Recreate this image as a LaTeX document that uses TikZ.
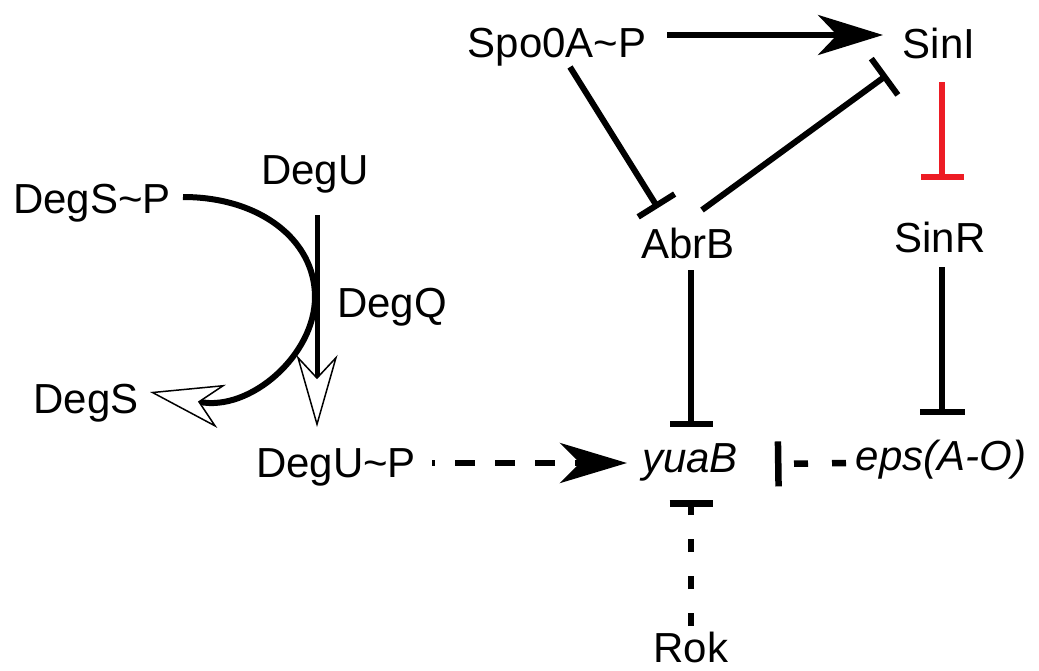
\documentclass[tikz,border=0pt]{standalone}
\usepackage{fontspec}
\setmainfont{Liberation Sans}
\usetikzlibrary{arrows.meta}
\definecolor{inhred}{RGB}{237,28,36}
\begin{document}
\begin{tikzpicture}[x=1pt,y=-1pt,
  lbl/.style={anchor=base, inner sep=0pt, font=\fontsize{42}{50}\selectfont},
  itl/.style={lbl, font=\fontsize{42}{50}\selectfont\itshape},
  conn/.style={line width=6pt},
  act/.style={conn, -{Stealth[length=65pt, width=40pt, inset=19pt]}},
  inh/.style={conn, -{Bar[width=#1]}},
]
\useasboundingbox (0,0) rectangle (1039,670);
% nodes
\node[lbl] (spo)   at (557,57)  {Spo0A\textasciitilde P};
\node[lbl] (sini)  at (939,58)  {SinI};
\node[lbl] (abrb)  at (688,258) {AbrB};
\node[lbl] (sinr)  at (940,252) {SinR};
\node[itl] (yuab)  at (690,472) {yuaB};
\node[itl] (eps)   at (941,470) {eps(A-O)};
\node[lbl] (rok)   at (691,662) {Rok};
\node[lbl] (degsp) at (92,213)  {DegS\textasciitilde P};
\node[lbl] (degu)  at (315,184) {DegU};
\node[lbl] (degq)  at (392,317) {DegQ};
\node[lbl] (degs)  at (86,413)  {DegS};
\node[lbl] (degup) at (336,477) {DegU\textasciitilde P};
% connectors
\draw[act] ([shift={(110,-22)}]spo.base) -- ([shift={(-56,-23)}]sini.base);
\draw[inh=43pt] ([shift={(13,10)}]spo.base) -- ([shift={(-30,-50)}]abrb.base);
\draw[inh=45pt] ([shift={(14,-48)}]abrb.base) -- ([shift={(-52,17)}]sini.base);
\draw[inh=43pt, draw=inhred] ([shift={(3,24)}]sini.base) -- ([shift={(2,-72)}]sinr.base);
\draw[inh=45pt] ([shift={(2,15)}]sinr.base) -- ([shift={(1,-55)}]eps.base);
\draw[inh=43pt] ([shift={(3,12)}]abrb.base) -- ([shift={(1,-45)}]yuab.base);
\draw[line width=6.5pt, dash pattern=on 20pt off 20pt, dash phase=17pt,
      -{Stealth[length=67pt, width=40pt, inset=20pt]}]
  ([shift={(96,-14)}]degup.base) -- ([shift={(-63,-9)}]yuab.base);
\draw[line width=6.5pt, dash pattern=on 13pt off 24pt, -{Bar[width=43pt]}]
  ([shift={(0,-36)}]rok.base) -- ([shift={(1,28)}]yuab.base);
\draw[line width=6.5pt, dash pattern=on 14pt off 24pt, -{Bar[width=45pt]}]
  ([shift={(-95,-7)}]eps.base) -- ([shift={(85,-8)}]yuab.base);
\draw[line width=5pt, -{Stealth[fill=white, line width=1.5pt, length=72pt, width=41pt, inset=22pt]}]
  ([shift={(2,31)}]degu.base) -- ([shift={(-19,-50)}]degup.base);
\draw[line width=6pt, -{Stealth[fill=white, line width=1.5pt, length=73pt, width=44pt, inset=22pt]}]
  ([shift={(91,-16)}]degsp.base) .. controls (260,197) and (315,240) .. (315,297)
  .. controls (315,355) and (250,412) .. ([shift={(64,-21)}]degs.base);
\end{tikzpicture}
\end{document}
